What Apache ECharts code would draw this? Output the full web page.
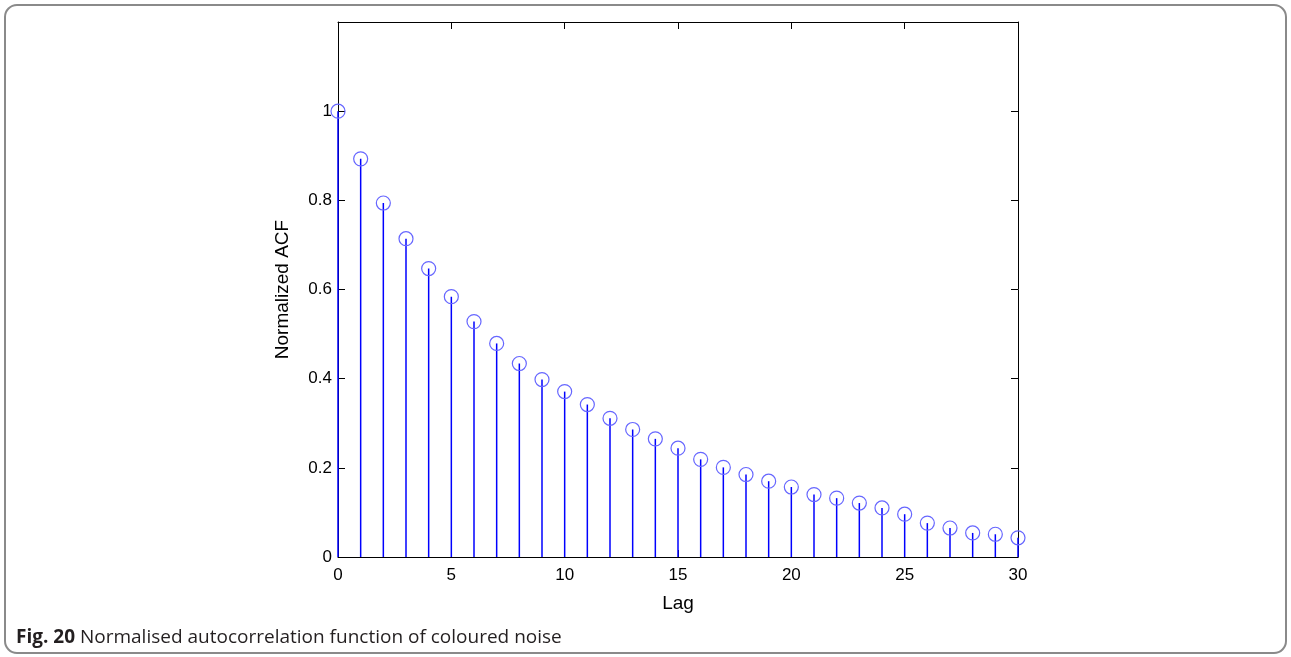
<!DOCTYPE html>
<html>
<head>
<meta charset="utf-8">
<script src="https://cdn.jsdelivr.net/npm/echarts@6/dist/echarts.min.js"></script>
<style>
html,body{margin:0;padding:0;background:#fff;}
#c{width:1291px;height:657px;}
</style>
</head>
<body>
<div id="c"></div>
<script>
const lags = [0,1,2,3,4,5,6,7,8,9,10,11,12,13,14,15,16,17,18,19,20,21,22,23,24,25,26,27,28,29,30];
const acf = [1.0,0.893,0.794,0.714,0.647,0.584,0.528,0.479,0.434,0.398,0.371,0.342,0.311,0.286,0.265,0.244,0.219,0.201,0.185,0.170,0.157,0.140,0.132,0.121,0.110,0.096,0.076,0.065,0.054,0.051,0.043];
const xTicks = [0,5,10,15,20,25,30];
const yTicks = [0,0.2,0.4,0.6,0.8,1];
const captionBold = 'Fig. 20';
const captionText = ' Normalised autocorrelation function of coloured noise';

const pts = lags.map((l,i)=>[l, acf[i]]);
const chart = echarts.init(document.getElementById('c'), null, {renderer:'canvas'});
const axisFont = {fontFamily:'Liberation Sans', fontSize:17, color:'#000'};
const nameFont = {fontFamily:'Liberation Sans', fontSize:19, color:'#000'};
const tick = {show:true, inside:true, length:7, lineStyle:{color:'#000', width:1}};
chart.setOption({
  animation:false,
  backgroundColor:'#fff',
  title:{
    text:'{b|'+captionBold+'}{r|'+captionText+'}',
    left:11, top:623,
    textStyle:{fontWeight:'normal', rich:{
      b:{fontFamily:'Open Sans', fontWeight:'bold', fontSize:19, color:'#231f20'},
      r:{fontFamily:'Open Sans', fontWeight:'normal', fontSize:19, color:'#231f20'}
    }}
  },
  graphic:[{
    type:'rect', shape:{x:5,y:5,width:1281,height:648,r:12},
    style:{fill:null, stroke:'#8a8a8a', lineWidth:2}, silent:true, z:-1
  }],
  grid:{left:338, right:273, top:22, bottom:100, show:false},
  xAxis:[{
    type:'value', min:0, max:30, interval:5,
    name:'Lag', nameLocation:'middle', nameGap:37,
    nameTextStyle:nameFont,
    axisLine:{show:true,onZero:false,lineStyle:{color:'#000'}},
    axisTick:tick,
    axisLabel:{...axisFont, margin:10, formatter:v=>xTicks.includes(v)?String(v):''},
    splitLine:{show:false}
  },{
    type:'value', position:'top', min:0, max:30, interval:5,
    axisLine:{show:true,onZero:false,lineStyle:{color:'#000'}},
    axisTick:tick,
    axisLabel:{show:false}, splitLine:{show:false}
  }],
  yAxis:[{
    type:'value', min:0, max:1.2, interval:0.2,
    name:'Normalized ACF', nameLocation:'middle', nameGap:46, nameRotate:90,
    nameTextStyle:nameFont,
    axisLine:{show:true,onZero:false,lineStyle:{color:'#000'}},
    axisTick:tick,
    axisLabel:{...axisFont, margin:6, formatter:v=>{
      const m = yTicks.find(t=>Math.abs(t-v)<1e-9);
      return m===undefined?'':String(m);
    }},
    splitLine:{show:false}
  },{
    type:'value', position:'right', min:0, max:1.2, interval:0.2,
    axisLine:{show:true,onZero:false,lineStyle:{color:'#000'}},
    axisTick:tick,
    axisLabel:{show:false}, splitLine:{show:false}
  }],
  series:[{
    type:'custom',
    data:pts,
    renderItem:function(params, api){
      const p0 = api.coord([api.value(0), 0]);
      const p1 = api.coord([api.value(0), api.value(1)]);
      return {type:'line', shape:{x1:p0[0],y1:p0[1],x2:p1[0],y2:p1[1]},
        style:{stroke:'#0000ff', lineWidth:1.5}};
    },
    encode:{x:0,y:1}, z:2
  },{
    type:'scatter',
    data:pts,
    symbol:'circle', symbolSize:14,
    itemStyle:{color:'rgba(0,0,0,0)', borderColor:'#6666ff', borderWidth:1.2, opacity:1},
    z:3
  }]
});
</script>
</body>
</html>
